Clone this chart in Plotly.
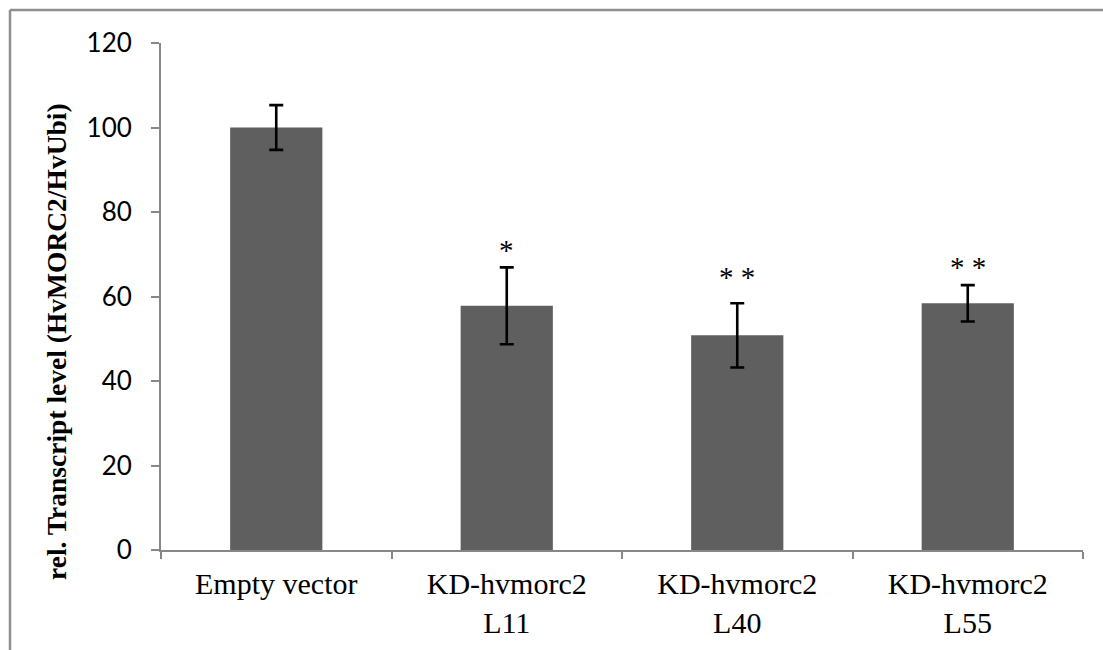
import plotly.graph_objects as go

# Transcript levels relative to the empty-vector control
categories = ["Empty vector", "KD-hvmorc2<br>L11", "KD-hvmorc2<br>L40", "KD-hvmorc2<br>L55"]
values = [100.0, 57.8, 50.8, 58.4]
errors = [5.3, 9.1, 7.6, 4.3]
significance = ["", "*", "* *", "* *"]
star_levels = [None, 71.0, 64.5, 67.0]
y_ticks = [0, 20, 40, 60, 80, 100, 120]

W, H = 1103, 650
L, R, T, B = 161, 20, 43, 100
plot_w = W - L - R
plot_h = H - T - B

axis_grey = "#878787"

fig = go.Figure()
fig.add_trace(go.Bar(
    x=categories,
    y=values,
    width=0.4,
    marker=dict(color="#5f5f5f", line=dict(width=0)),
    error_y=dict(type="data", array=errors, visible=True,
                 color="black", thickness=2.6, width=7),
    showlegend=False,
))

annotations = []
for cat, txt, lvl in zip(categories, significance, star_levels):
    if txt:
        annotations.append(dict(
            x=cat, y=lvl, xref="x", yref="y", text=txt, showarrow=False,
            font=dict(family="Liberation Serif", size=29, color="black"),
            xanchor="center", yanchor="middle",
        ))

# rotated y-axis title
annotations.append(dict(
    x=(56 - L) / plot_w, y=(H - B - 342) / plot_h, xref="paper", yref="paper",
    text="<b>rel. Transcript level (HvMORC2/HvUbi)</b>", showarrow=False,
    textangle=-90, xanchor="center", yanchor="middle",
    font=dict(family="Liberation Serif", size=27.5, color="black"),
))

# outer frame: left and top edges
fx = (10 - L) / plot_w
fy = (H - B - 10) / plot_h
shapes = [
    dict(type="line", xref="paper", yref="paper", x0=fx, x1=fx,
         y0=fy, y1=(H - B - H) / plot_h, line=dict(color="#8f8f8f", width=2.5)),
    dict(type="line", xref="paper", yref="paper", x0=fx, x1=(W - L) / plot_w,
         y0=fy, y1=fy, line=dict(color="#8f8f8f", width=2.5)),
]

fig.update_layout(
    width=W, height=H,
    margin=dict(l=L, r=R, t=T, b=B, pad=0),
    paper_bgcolor="white", plot_bgcolor="white",
    annotations=annotations, shapes=shapes,
    bargap=0.6,
)
fig.update_xaxes(
    type="category", tickson="boundaries", ticks="outside", ticklen=7,
    tickwidth=2, tickcolor=axis_grey, showline=True, linecolor=axis_grey,
    linewidth=2, showgrid=False, zeroline=False, ticklabelstandoff=6,
    tickfont=dict(family="Liberation Serif", size=30, color="black"),
)
fig.update_yaxes(
    range=[0, 120], tickvals=y_ticks, ticks="outside", ticklen=8,
    tickwidth=2, tickcolor=axis_grey, showline=True, linecolor=axis_grey,
    linewidth=2, showgrid=False, zeroline=False, ticklabelstandoff=14,
    tickfont=dict(family="Lato", size=26, color="black"),
)

fig.write_html("out.html")
